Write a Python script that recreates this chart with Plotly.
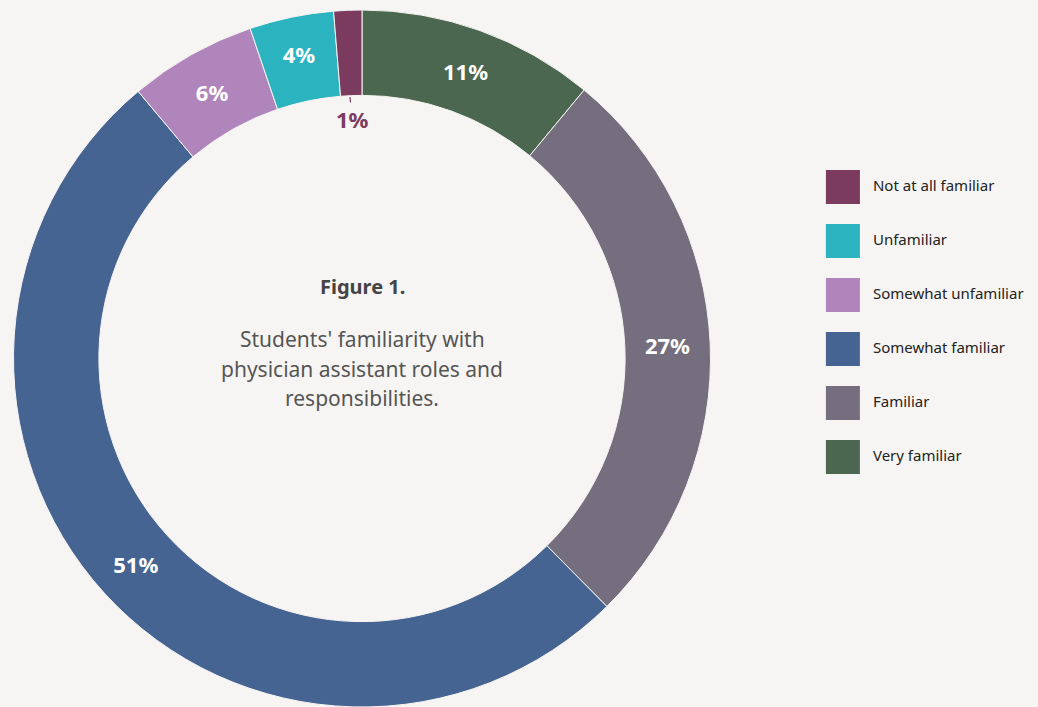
import plotly.graph_objects as go

categories = ["Not at all familiar", "Unfamiliar", "Somewhat unfamiliar",
              "Somewhat familiar", "Familiar", "Very familiar"]
values = [1.3, 3.9, 5.9, 51.3, 26.6, 11.0]
slice_labels = ["1%", "4%", "6%", "51%", "27%", "11%"]
colors = ["#7b3b5e", "#2bb3c0", "#b085bb", "#466491", "#746e7e", "#4b6750"]
subtitle_lines = ["Students' familiarity with", "physician assistant roles and", "responsibilities."]

BG = "#f7f5f3"
FONT = "Noto Sans"

# pie drawn clockwise from 12 o'clock, starting with the last category
pie_text = ["" if i == 0 else "<b>%s</b>" % t for i, t in enumerate(slice_labels)]
pie_pos = ["none" if i == 0 else "inside" for i in range(len(categories))]

fig = go.Figure()

fig.add_trace(go.Pie(
    labels=categories[::-1],
    values=values[::-1],
    text=pie_text[::-1],
    textinfo="text",
    textposition=pie_pos[::-1],
    insidetextorientation="horizontal",
    textfont=dict(family=FONT, size=22, color="white"),
    marker=dict(colors=colors[::-1], line=dict(color=BG, width=1)),
    hole=0.755,
    sort=False,
    direction="clockwise",
    rotation=0,
    showlegend=False,
    domain=dict(x=[0, 700 / 1026], y=[0, 1]),
    hoverinfo="label+percent",
))

# custom legend with large square swatches
fig.add_trace(go.Scatter(
    x=[0] * len(categories),
    y=categories,
    mode="markers+text",
    marker=dict(symbol="square", size=34, color=colors, line=dict(width=0)),
    text=["&nbsp;&nbsp;" + c for c in categories],
    textposition="middle right",
    textfont=dict(family=FONT, size=15, color="#222222"),
    showlegend=False,
    hoverinfo="skip",
    cliponaxis=False,
))

annotations = [
    dict(text="<b>Figure 1.</b>", x=350 / 1026, y=(707 - 286) / 697,
         xref="paper", yref="paper", showarrow=False,
         font=dict(family=FONT, size=20, color="#444444")),
    dict(text="<b>1%</b>", x=(350 - 12) / 1026, y=(707 - 97) / 697,
         xref="paper", yref="paper", showarrow=True, arrowhead=0,
         arrowcolor="#7b3b5e", arrowwidth=1.2, ax=2, ay=22,
         font=dict(family=FONT, size=22, color="#7b3b5e")),
]
for i, line in enumerate(subtitle_lines):
    annotations.append(dict(text=line, x=350 / 1026, y=(707 - (339 + 29.5 * i)) / 697,
                            xref="paper", yref="paper", showarrow=False,
                            font=dict(family=FONT, size=21, color="#555555")))

fig.update_layout(
    width=1038, height=707,
    margin=dict(l=12, r=0, t=10, b=0),
    paper_bgcolor=BG,
    plot_bgcolor=BG,
    font=dict(family=FONT),
    xaxis=dict(domain=[0.78, 1.0], range=[-0.157, 1], visible=False, fixedrange=True),
    yaxis=dict(domain=[0.320, 0.7848], range=[-0.5, 5.5], visible=False,
               categoryorder="array", categoryarray=categories[::-1], fixedrange=True),
    annotations=annotations,
)

fig.write_html("out.html")
